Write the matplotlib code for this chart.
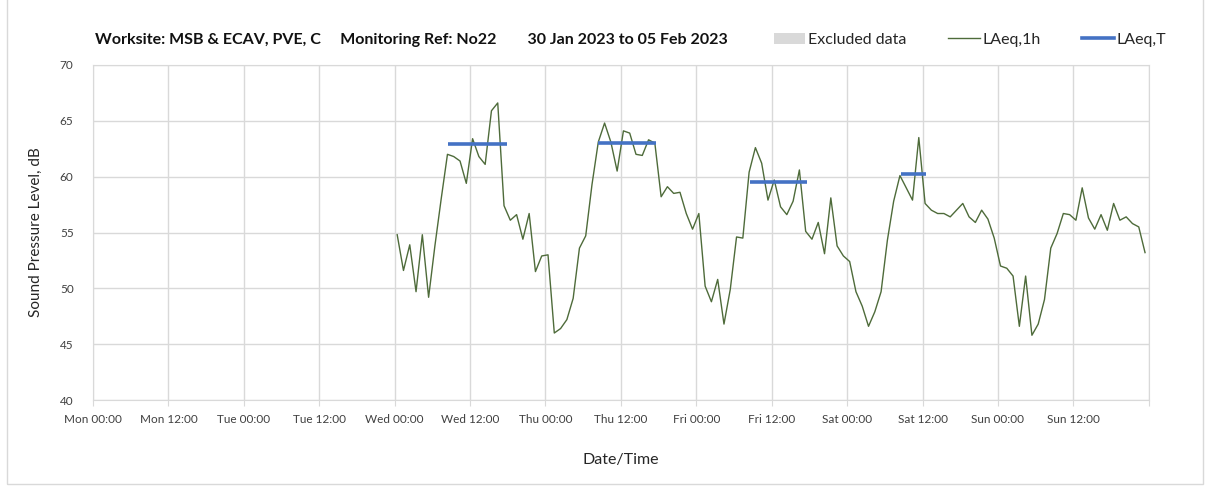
import numpy as np
import matplotlib
matplotlib.use("Agg")
from matplotlib import pyplot as plt
from matplotlib.patches import Patch, Rectangle
from matplotlib.lines import Line2D

plt.rcParams['font.family'] = ['Lato', 'DejaVu Sans']

# hourly LAeq,1h from Wed 00:00 to Sun 23:00 (hours after Mon 00:00)
start_hour = 48.4
laeq_1h = [
    # Wed
    54.8, 51.6, 53.9, 49.7, 54.8, 49.2, 53.8, 58.0, 62.0, 61.8, 61.4, 59.4,
    63.4, 61.8, 61.1, 65.9, 66.6, 57.4, 56.1, 56.6, 54.4, 56.7, 51.5, 52.9,
    # Thu
    53.0, 46.0, 46.4, 47.2, 49.1, 53.6, 54.7, 59.3, 63.1, 64.8, 63.1, 60.5,
    64.1, 63.9, 62.0, 61.9, 63.3, 63.0, 58.2, 59.1, 58.5, 58.6, 56.7, 55.3,
    # Fri
    56.7, 50.2, 48.8, 50.8, 46.8, 49.9, 54.6, 54.5, 60.4, 62.6, 61.2, 57.9,
    59.7, 57.3, 56.6, 57.8, 60.6, 55.1, 54.4, 55.9, 53.1, 58.1, 53.8, 52.9,
    # Sat
    52.4, 49.7, 48.4, 46.6, 47.9, 49.7, 54.3, 57.8, 60.1, 59.0, 57.9, 63.5,
    57.6, 57.0, 56.7, 56.7, 56.4, 57.0, 57.6, 56.4, 55.9, 57.0, 56.2, 54.5,
    # Sun
    52.0, 51.8, 51.1, 46.6, 51.1, 45.8, 46.8, 49.0, 53.6, 54.9, 56.7, 56.6,
    56.1, 59.0, 56.3, 55.3, 56.6, 55.2, 57.6, 56.1, 56.4, 55.8, 55.5, 53.2,
]

# LAeq,T periods (start hour, end hour after Mon 00:00, level)
laeq_t_start = [56.5, 80.3, 104.5, 128.5]
laeq_t_end = [65.8, 89.6, 113.6, 132.6]
laeq_t_level = [62.9, 63.0, 59.5, 60.2]

tick_labels = ['Mon 00:00', 'Mon 12:00', 'Tue 00:00', 'Tue 12:00',
               'Wed 00:00', 'Wed 12:00', 'Thu 00:00', 'Thu 12:00',
               'Fri 00:00', 'Fri 12:00', 'Sat 00:00', 'Sat 12:00',
               'Sun 00:00', 'Sun 12:00', '']

green = '#4e6b3a'
blue = '#4472c4'
grid_col = '#d9d9d9'
text_col = '#404040'

fig = plt.figure(figsize=(12.08, 4.96), dpi=100)
ax = fig.add_axes([0.077, 0.1935, 0.874, 0.6755])

hours = start_hour + np.arange(len(laeq_1h))
ax.plot(hours, laeq_1h, color=green, lw=1.0, zorder=3)
ax.hlines(laeq_t_level, laeq_t_start, laeq_t_end, color=blue, lw=2.6, zorder=4)

ax.set_xlim(0, 168)
ax.set_ylim(40, 70)
ax.set_xticks(np.arange(0, 169, 12))
ax.set_xticklabels(tick_labels)
ax.set_yticks(np.arange(40, 71, 5))
ax.grid(True, color=grid_col, lw=1.0)
ax.set_axisbelow(True)
for s in ax.spines.values():
    s.set_color(grid_col)
ax.tick_params(axis='both', colors=grid_col, labelcolor=text_col, labelsize=8.5,
               length=4)
ax.tick_params(axis='x', pad=6)
ax.tick_params(axis='y', length=0, pad=14)

ax.set_ylabel('Sound Pressure Level, dB', fontsize=11, color='#262626', labelpad=12)
ax.set_xlabel('Date/Time', fontsize=11.5, color='#262626', labelpad=20)

fig.text(0.079, 0.92, 'Worksite: MSB & ECAV, PVE, C     Monitoring Ref: No22        30 Jan 2023 to 05 Feb 2023',
         fontsize=11.5, fontweight='bold', color='#111111', va='center')

handles = [Patch(facecolor='#d9d9d9', edgecolor='none'),
           Line2D([], [], color=green, lw=1.0),
           Line2D([], [], color=blue, lw=2.6)]
fig.legend(handles, ['Excluded data', 'LAeq,1h', 'LAeq,T'], ncol=3, frameon=False,
           loc='center right', bbox_to_anchor=(0.977, 0.92), fontsize=11.5,
           handlelength=2.0, handletextpad=0.15, columnspacing=2.6,
           labelcolor='#262626')

fig.patches.append(Rectangle((0.006, 0.025), 0.99, 0.99, transform=fig.transFigure,
                             fill=False, edgecolor='#d9d9d9', lw=1.0))

fig.savefig('out.png', dpi=100)
